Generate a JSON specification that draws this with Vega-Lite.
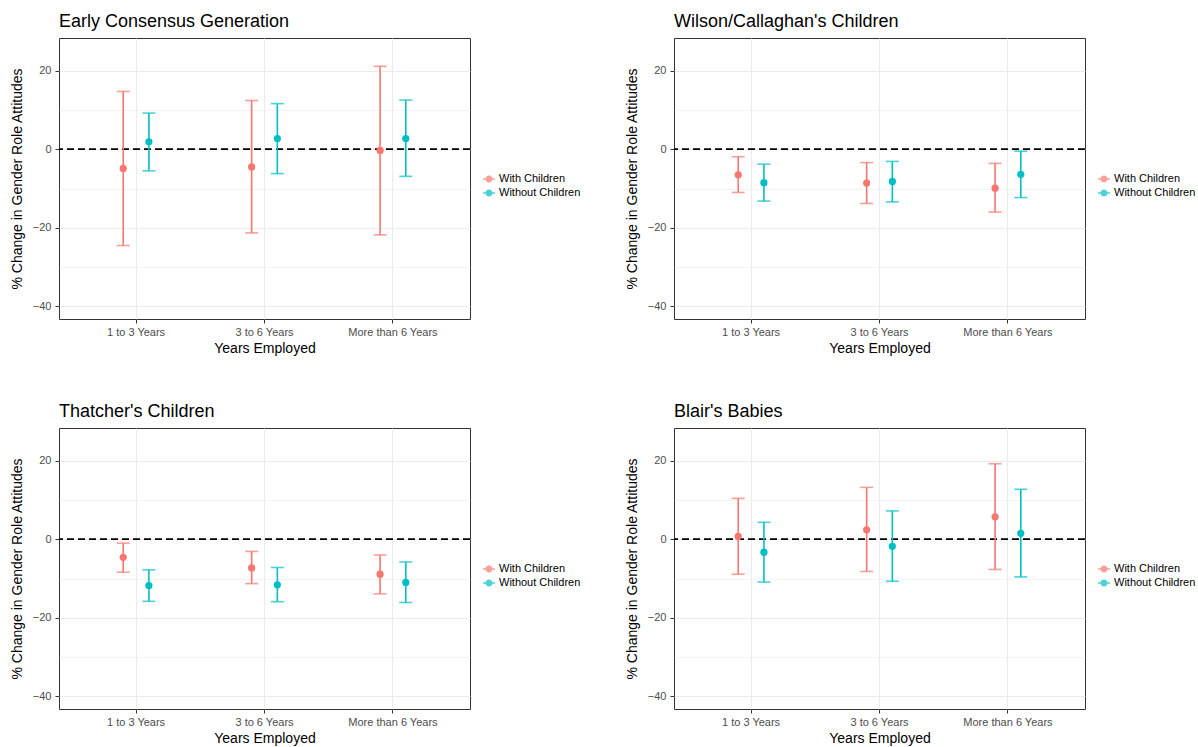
{
  "$schema": "https://vega.github.io/schema/vega-lite/v6.json",
  "autosize": "none",
  "padding": {"left": 59, "top": 38, "right": 1139, "bottom": 709},
  "datasets": {
    "est": [
      {"panel": "Early Consensus Generation", "years": "1 to 3 Years", "group": "With Children", "est": -4.9, "lo": -24.5, "hi": 14.7},
      {"panel": "Early Consensus Generation", "years": "1 to 3 Years", "group": "Without Children", "est": 1.9, "lo": -5.5, "hi": 9.2},
      {"panel": "Early Consensus Generation", "years": "3 to 6 Years", "group": "With Children", "est": -4.5, "lo": -21.3, "hi": 12.4},
      {"panel": "Early Consensus Generation", "years": "3 to 6 Years", "group": "Without Children", "est": 2.7, "lo": -6.2, "hi": 11.6},
      {"panel": "Early Consensus Generation", "years": "More than 6 Years", "group": "With Children", "est": -0.3, "lo": -21.8, "hi": 21.1},
      {"panel": "Early Consensus Generation", "years": "More than 6 Years", "group": "Without Children", "est": 2.7, "lo": -6.9, "hi": 12.5},
      {"panel": "Wilson/Callaghan's Children", "years": "1 to 3 Years", "group": "With Children", "est": -6.5, "lo": -11.0, "hi": -1.9},
      {"panel": "Wilson/Callaghan's Children", "years": "1 to 3 Years", "group": "Without Children", "est": -8.5, "lo": -13.2, "hi": -3.8},
      {"panel": "Wilson/Callaghan's Children", "years": "3 to 6 Years", "group": "With Children", "est": -8.6, "lo": -13.8, "hi": -3.4},
      {"panel": "Wilson/Callaghan's Children", "years": "3 to 6 Years", "group": "Without Children", "est": -8.2, "lo": -13.4, "hi": -3.1},
      {"panel": "Wilson/Callaghan's Children", "years": "More than 6 Years", "group": "With Children", "est": -9.9, "lo": -16.0, "hi": -3.6},
      {"panel": "Wilson/Callaghan's Children", "years": "More than 6 Years", "group": "Without Children", "est": -6.4, "lo": -12.3, "hi": -0.5},
      {"panel": "Thatcher's Children", "years": "1 to 3 Years", "group": "With Children", "est": -4.6, "lo": -8.4, "hi": -1.0},
      {"panel": "Thatcher's Children", "years": "1 to 3 Years", "group": "Without Children", "est": -11.8, "lo": -15.8, "hi": -7.8},
      {"panel": "Thatcher's Children", "years": "3 to 6 Years", "group": "With Children", "est": -7.3, "lo": -11.3, "hi": -3.1},
      {"panel": "Thatcher's Children", "years": "3 to 6 Years", "group": "Without Children", "est": -11.6, "lo": -15.9, "hi": -7.2},
      {"panel": "Thatcher's Children", "years": "More than 6 Years", "group": "With Children", "est": -8.9, "lo": -13.9, "hi": -4.0},
      {"panel": "Thatcher's Children", "years": "More than 6 Years", "group": "Without Children", "est": -11.0, "lo": -16.1, "hi": -5.8},
      {"panel": "Blair's Babies", "years": "1 to 3 Years", "group": "With Children", "est": 0.7, "lo": -8.9, "hi": 10.4},
      {"panel": "Blair's Babies", "years": "1 to 3 Years", "group": "Without Children", "est": -3.3, "lo": -10.9, "hi": 4.3},
      {"panel": "Blair's Babies", "years": "3 to 6 Years", "group": "With Children", "est": 2.4, "lo": -8.2, "hi": 13.2},
      {"panel": "Blair's Babies", "years": "3 to 6 Years", "group": "Without Children", "est": -1.8, "lo": -10.7, "hi": 7.2},
      {"panel": "Blair's Babies", "years": "More than 6 Years", "group": "With Children", "est": 5.7, "lo": -7.7, "hi": 19.2},
      {"panel": "Blair's Babies", "years": "More than 6 Years", "group": "Without Children", "est": 1.5, "lo": -9.6, "hi": 12.7}
    ],
    "zero": [{"z": 0}]
  },
  "data": {"name": "est"},
  "columns": 2,
  "bounds": "flush",
  "spacing": {"row": 109, "column": 204},
  "resolve": {"legend": {"color": "independent"}},
  "concat": [
    {
      "width": 411, "height": 281,
      "title": {"text": "Early Consensus Generation"},
      "transform": [{"filter": "datum.panel === 'Early Consensus Generation'"}],
      "layer": [
        {"data": {"name": "zero"}, "mark": {"type": "rule", "strokeDash": [7, 4], "strokeWidth": 1.8, "color": "black"},
         "encoding": {"y": {"field": "z", "type": "quantitative", "title": "% Change in Gender Role Attitudes", "scale": {"domain": [-43.2, 28.3], "nice": false, "zero": false}}}},
        {"mark": {"type": "rule", "strokeWidth": 1.6},
         "encoding": {
           "x": {"field": "years", "type": "nominal", "sort": ["1 to 3 Years", "3 to 6 Years", "More than 6 Years"], "scale": {"type": "band", "paddingInner": 0.2, "paddingOuter": 0.2}, "axis": {"title": "Years Employed", "labelAngle": 0, "grid": true, "bandPosition": 0.5, "gridWidth": 1.1, "labelPadding": 3, "titlePadding": 4}},
           "xOffset": {"field": "group", "type": "nominal", "scale": {"type": "band", "paddingInner": 0, "paddingOuter": 1}},
           "y": {"field": "lo", "type": "quantitative", "title": "% Change in Gender Role Attitudes", "scale": {"domain": [-43.2, 28.3], "nice": false, "zero": false},
                 "axis": {"values": [-40, -30, -20, -10, 0, 10, 20], "labelExpr": "datum.value % 20 === 0 ? datum.label : ''", "tickOpacity": {"condition": {"test": "datum.value % 20 !== 0", "value": 0}, "value": 1}, "gridWidth": {"condition": {"test": "datum.value % 20 !== 0", "value": 0.6}, "value": 1.1}, "grid": true, "labelPadding": 4, "titlePadding": 8}},
           "y2": {"field": "hi"},
           "color": {"field": "group", "type": "nominal", "scale": {"domain": ["With Children", "Without Children"], "range": ["#F8766D", "#00BFC4"]}}
         }},
        {"mark": {"type": "tick", "size": 13, "thickness": 1.6},
         "encoding": {
           "x": {"field": "years", "type": "nominal", "sort": ["1 to 3 Years", "3 to 6 Years", "More than 6 Years"]},
           "xOffset": {"field": "group", "type": "nominal"},
           "y": {"field": "lo", "type": "quantitative", "title": "% Change in Gender Role Attitudes"},
           "color": {"field": "group", "type": "nominal"}
         }},
        {"mark": {"type": "tick", "size": 13, "thickness": 1.6},
         "encoding": {
           "x": {"field": "years", "type": "nominal", "sort": ["1 to 3 Years", "3 to 6 Years", "More than 6 Years"]},
           "xOffset": {"field": "group", "type": "nominal"},
           "y": {"field": "hi", "type": "quantitative", "title": "% Change in Gender Role Attitudes"},
           "color": {"field": "group", "type": "nominal"}
         }},
        {"mark": {"type": "point", "filled": true, "size": 52, "opacity": 1},
         "encoding": {
           "x": {"field": "years", "type": "nominal", "sort": ["1 to 3 Years", "3 to 6 Years", "More than 6 Years"]},
           "xOffset": {"field": "group", "type": "nominal"},
           "y": {"field": "est", "type": "quantitative", "title": "% Change in Gender Role Attitudes"},
           "color": {"field": "group", "type": "nominal", "legend": {"title": null, "orient": "none", "legendX": 424, "legendY": 135, "symbolType": "M-1,-0.12H-0.5V0.12H-1Z M0.5,-0.12H1V0.12H0.5Z M0.58,0A0.58,0.58 0 1,1 -0.58,0A0.58,0.58 0 1,1 0.58,0Z", "symbolSize": 144, "symbolStrokeWidth": 0, "symbolOpacity": 1, "labelFontSize": 11, "labelColor": "black", "rowPadding": 3, "labelOffset": 4}}
         }}
      ]
    },
    {
      "width": 411, "height": 281,
      "title": {"text": "Wilson/Callaghan's Children"},
      "transform": [{"filter": "datum.panel === \"Wilson/Callaghan's Children\""}],
      "layer": [
        {"data": {"name": "zero"}, "mark": {"type": "rule", "strokeDash": [7, 4], "strokeWidth": 1.8, "color": "black"},
         "encoding": {"y": {"field": "z", "type": "quantitative", "title": "% Change in Gender Role Attitudes", "scale": {"domain": [-43.2, 28.3], "nice": false, "zero": false}}}},
        {"mark": {"type": "rule", "strokeWidth": 1.6},
         "encoding": {
           "x": {"field": "years", "type": "nominal", "sort": ["1 to 3 Years", "3 to 6 Years", "More than 6 Years"], "scale": {"type": "band", "paddingInner": 0.2, "paddingOuter": 0.2}, "axis": {"title": "Years Employed", "labelAngle": 0, "grid": true, "bandPosition": 0.5, "gridWidth": 1.1, "labelPadding": 3, "titlePadding": 4}},
           "xOffset": {"field": "group", "type": "nominal", "scale": {"type": "band", "paddingInner": 0, "paddingOuter": 1}},
           "y": {"field": "lo", "type": "quantitative", "title": "% Change in Gender Role Attitudes", "scale": {"domain": [-43.2, 28.3], "nice": false, "zero": false},
                 "axis": {"values": [-40, -30, -20, -10, 0, 10, 20], "labelExpr": "datum.value % 20 === 0 ? datum.label : ''", "tickOpacity": {"condition": {"test": "datum.value % 20 !== 0", "value": 0}, "value": 1}, "gridWidth": {"condition": {"test": "datum.value % 20 !== 0", "value": 0.6}, "value": 1.1}, "grid": true, "labelPadding": 4, "titlePadding": 8}},
           "y2": {"field": "hi"},
           "color": {"field": "group", "type": "nominal", "scale": {"domain": ["With Children", "Without Children"], "range": ["#F8766D", "#00BFC4"]}}
         }},
        {"mark": {"type": "tick", "size": 13, "thickness": 1.6},
         "encoding": {
           "x": {"field": "years", "type": "nominal", "sort": ["1 to 3 Years", "3 to 6 Years", "More than 6 Years"]},
           "xOffset": {"field": "group", "type": "nominal"},
           "y": {"field": "lo", "type": "quantitative", "title": "% Change in Gender Role Attitudes"},
           "color": {"field": "group", "type": "nominal"}
         }},
        {"mark": {"type": "tick", "size": 13, "thickness": 1.6},
         "encoding": {
           "x": {"field": "years", "type": "nominal", "sort": ["1 to 3 Years", "3 to 6 Years", "More than 6 Years"]},
           "xOffset": {"field": "group", "type": "nominal"},
           "y": {"field": "hi", "type": "quantitative", "title": "% Change in Gender Role Attitudes"},
           "color": {"field": "group", "type": "nominal"}
         }},
        {"mark": {"type": "point", "filled": true, "size": 52, "opacity": 1},
         "encoding": {
           "x": {"field": "years", "type": "nominal", "sort": ["1 to 3 Years", "3 to 6 Years", "More than 6 Years"]},
           "xOffset": {"field": "group", "type": "nominal"},
           "y": {"field": "est", "type": "quantitative", "title": "% Change in Gender Role Attitudes"},
           "color": {"field": "group", "type": "nominal", "legend": {"title": null, "orient": "none", "legendX": 424, "legendY": 135, "symbolType": "M-1,-0.12H-0.5V0.12H-1Z M0.5,-0.12H1V0.12H0.5Z M0.58,0A0.58,0.58 0 1,1 -0.58,0A0.58,0.58 0 1,1 0.58,0Z", "symbolSize": 144, "symbolStrokeWidth": 0, "symbolOpacity": 1, "labelFontSize": 11, "labelColor": "black", "rowPadding": 3, "labelOffset": 4}}
         }}
      ]
    },
    {
      "width": 411, "height": 281,
      "title": {"text": "Thatcher's Children"},
      "transform": [{"filter": "datum.panel === \"Thatcher's Children\""}],
      "layer": [
        {"data": {"name": "zero"}, "mark": {"type": "rule", "strokeDash": [7, 4], "strokeWidth": 1.8, "color": "black"},
         "encoding": {"y": {"field": "z", "type": "quantitative", "title": "% Change in Gender Role Attitudes", "scale": {"domain": [-43.2, 28.3], "nice": false, "zero": false}}}},
        {"mark": {"type": "rule", "strokeWidth": 1.6},
         "encoding": {
           "x": {"field": "years", "type": "nominal", "sort": ["1 to 3 Years", "3 to 6 Years", "More than 6 Years"], "scale": {"type": "band", "paddingInner": 0.2, "paddingOuter": 0.2}, "axis": {"title": "Years Employed", "labelAngle": 0, "grid": true, "bandPosition": 0.5, "gridWidth": 1.1, "labelPadding": 3, "titlePadding": 4}},
           "xOffset": {"field": "group", "type": "nominal", "scale": {"type": "band", "paddingInner": 0, "paddingOuter": 1}},
           "y": {"field": "lo", "type": "quantitative", "title": "% Change in Gender Role Attitudes", "scale": {"domain": [-43.2, 28.3], "nice": false, "zero": false},
                 "axis": {"values": [-40, -30, -20, -10, 0, 10, 20], "labelExpr": "datum.value % 20 === 0 ? datum.label : ''", "tickOpacity": {"condition": {"test": "datum.value % 20 !== 0", "value": 0}, "value": 1}, "gridWidth": {"condition": {"test": "datum.value % 20 !== 0", "value": 0.6}, "value": 1.1}, "grid": true, "labelPadding": 4, "titlePadding": 8}},
           "y2": {"field": "hi"},
           "color": {"field": "group", "type": "nominal", "scale": {"domain": ["With Children", "Without Children"], "range": ["#F8766D", "#00BFC4"]}}
         }},
        {"mark": {"type": "tick", "size": 13, "thickness": 1.6},
         "encoding": {
           "x": {"field": "years", "type": "nominal", "sort": ["1 to 3 Years", "3 to 6 Years", "More than 6 Years"]},
           "xOffset": {"field": "group", "type": "nominal"},
           "y": {"field": "lo", "type": "quantitative", "title": "% Change in Gender Role Attitudes"},
           "color": {"field": "group", "type": "nominal"}
         }},
        {"mark": {"type": "tick", "size": 13, "thickness": 1.6},
         "encoding": {
           "x": {"field": "years", "type": "nominal", "sort": ["1 to 3 Years", "3 to 6 Years", "More than 6 Years"]},
           "xOffset": {"field": "group", "type": "nominal"},
           "y": {"field": "hi", "type": "quantitative", "title": "% Change in Gender Role Attitudes"},
           "color": {"field": "group", "type": "nominal"}
         }},
        {"mark": {"type": "point", "filled": true, "size": 52, "opacity": 1},
         "encoding": {
           "x": {"field": "years", "type": "nominal", "sort": ["1 to 3 Years", "3 to 6 Years", "More than 6 Years"]},
           "xOffset": {"field": "group", "type": "nominal"},
           "y": {"field": "est", "type": "quantitative", "title": "% Change in Gender Role Attitudes"},
           "color": {"field": "group", "type": "nominal", "legend": {"title": null, "orient": "none", "legendX": 424, "legendY": 135, "symbolType": "M-1,-0.12H-0.5V0.12H-1Z M0.5,-0.12H1V0.12H0.5Z M0.58,0A0.58,0.58 0 1,1 -0.58,0A0.58,0.58 0 1,1 0.58,0Z", "symbolSize": 144, "symbolStrokeWidth": 0, "symbolOpacity": 1, "labelFontSize": 11, "labelColor": "black", "rowPadding": 3, "labelOffset": 4}}
         }}
      ]
    },
    {
      "width": 411, "height": 281,
      "title": {"text": "Blair's Babies"},
      "transform": [{"filter": "datum.panel === \"Blair's Babies\""}],
      "layer": [
        {"data": {"name": "zero"}, "mark": {"type": "rule", "strokeDash": [7, 4], "strokeWidth": 1.8, "color": "black"},
         "encoding": {"y": {"field": "z", "type": "quantitative", "title": "% Change in Gender Role Attitudes", "scale": {"domain": [-43.2, 28.3], "nice": false, "zero": false}}}},
        {"mark": {"type": "rule", "strokeWidth": 1.6},
         "encoding": {
           "x": {"field": "years", "type": "nominal", "sort": ["1 to 3 Years", "3 to 6 Years", "More than 6 Years"], "scale": {"type": "band", "paddingInner": 0.2, "paddingOuter": 0.2}, "axis": {"title": "Years Employed", "labelAngle": 0, "grid": true, "bandPosition": 0.5, "gridWidth": 1.1, "labelPadding": 3, "titlePadding": 4}},
           "xOffset": {"field": "group", "type": "nominal", "scale": {"type": "band", "paddingInner": 0, "paddingOuter": 1}},
           "y": {"field": "lo", "type": "quantitative", "title": "% Change in Gender Role Attitudes", "scale": {"domain": [-43.2, 28.3], "nice": false, "zero": false},
                 "axis": {"values": [-40, -30, -20, -10, 0, 10, 20], "labelExpr": "datum.value % 20 === 0 ? datum.label : ''", "tickOpacity": {"condition": {"test": "datum.value % 20 !== 0", "value": 0}, "value": 1}, "gridWidth": {"condition": {"test": "datum.value % 20 !== 0", "value": 0.6}, "value": 1.1}, "grid": true, "labelPadding": 4, "titlePadding": 8}},
           "y2": {"field": "hi"},
           "color": {"field": "group", "type": "nominal", "scale": {"domain": ["With Children", "Without Children"], "range": ["#F8766D", "#00BFC4"]}}
         }},
        {"mark": {"type": "tick", "size": 13, "thickness": 1.6},
         "encoding": {
           "x": {"field": "years", "type": "nominal", "sort": ["1 to 3 Years", "3 to 6 Years", "More than 6 Years"]},
           "xOffset": {"field": "group", "type": "nominal"},
           "y": {"field": "lo", "type": "quantitative", "title": "% Change in Gender Role Attitudes"},
           "color": {"field": "group", "type": "nominal"}
         }},
        {"mark": {"type": "tick", "size": 13, "thickness": 1.6},
         "encoding": {
           "x": {"field": "years", "type": "nominal", "sort": ["1 to 3 Years", "3 to 6 Years", "More than 6 Years"]},
           "xOffset": {"field": "group", "type": "nominal"},
           "y": {"field": "hi", "type": "quantitative", "title": "% Change in Gender Role Attitudes"},
           "color": {"field": "group", "type": "nominal"}
         }},
        {"mark": {"type": "point", "filled": true, "size": 52, "opacity": 1},
         "encoding": {
           "x": {"field": "years", "type": "nominal", "sort": ["1 to 3 Years", "3 to 6 Years", "More than 6 Years"]},
           "xOffset": {"field": "group", "type": "nominal"},
           "y": {"field": "est", "type": "quantitative", "title": "% Change in Gender Role Attitudes"},
           "color": {"field": "group", "type": "nominal", "legend": {"title": null, "orient": "none", "legendX": 424, "legendY": 135, "symbolType": "M-1,-0.12H-0.5V0.12H-1Z M0.5,-0.12H1V0.12H0.5Z M0.58,0A0.58,0.58 0 1,1 -0.58,0A0.58,0.58 0 1,1 0.58,0Z", "symbolSize": 144, "symbolStrokeWidth": 0, "symbolOpacity": 1, "labelFontSize": 11, "labelColor": "black", "rowPadding": 3, "labelOffset": 4}}
         }}
      ]
    }
  ],
  "config": {
    "font": "Liberation Sans",
    "background": "white",
    "view": {"stroke": "#333333", "strokeWidth": 1},
    "axis": {"labelFontSize": 11, "labelColor": "#4D4D4D", "labelFont": "Liberation Sans", "titleFont": "Liberation Sans", "titleFontSize": 14, "titleFontWeight": "normal", "titleColor": "black", "tickColor": "#333333", "tickSize": 4, "tickWidth": 1, "domain": false, "gridColor": "#EBEBEB"},
    "title": {"font": "Liberation Sans", "fontSize": 18, "fontWeight": "normal", "color": "black", "anchor": "start", "frame": "group", "offset": 7},
    "legend": {"labelFont": "Liberation Sans"}
  }
}
